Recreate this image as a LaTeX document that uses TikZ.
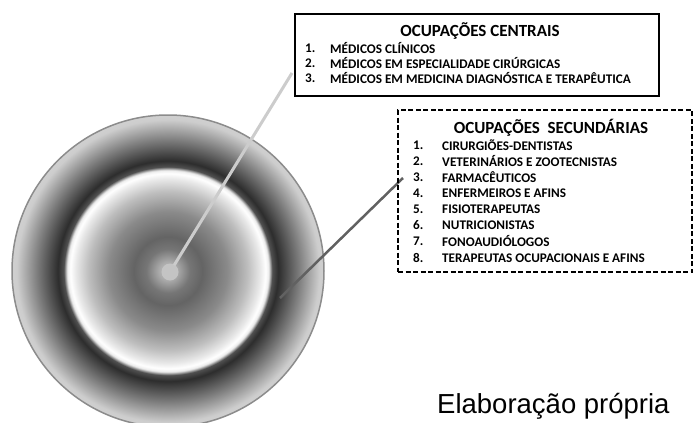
\documentclass[tikz,border=0pt]{standalone}
\usepackage{fontspec}
\setmainfont{Carlito}
\newfontfamily\arialfont{Liberation Sans}
\pgfdeclareradialshading{discshade}{\pgfpoint{0bp}{0bp}}{%
color(0bp)=(rgb,255:red,196;green,196;blue,196);
color(1.5bp)=(rgb,255:red,170;green,170;blue,170);
color(3.5bp)=(rgb,255:red,118;green,118;blue,118);
color(5.5bp)=(rgb,255:red,100;green,100;blue,100);
color(9.5bp)=(rgb,255:red,138;green,138;blue,138);
color(12.75bp)=(rgb,255:red,190;green,190;blue,190);
color(14.75bp)=(rgb,255:red,232;green,232;blue,232);
color(15.65bp)=(rgb,255:red,255;green,255;blue,255);
color(16.15bp)=(rgb,255:red,235;green,235;blue,235);
color(16.7bp)=(rgb,255:red,80;green,80;blue,80);
color(17.65bp)=(rgb,255:red,45;green,45;blue,45);
color(21bp)=(rgb,255:red,125;green,125;blue,125);
color(24.25bp)=(rgb,255:red,205;green,205;blue,205);
color(25bp)=(rgb,255:red,208;green,208;blue,208);
color(50bp)=(rgb,255:red,208;green,208;blue,208)}
\begin{document}
\begin{tikzpicture}[x=1pt,y=-1pt,
  ringline/.style={draw=black!45,line width=1.5pt},
  lightconn/.style={draw=black!20,line width=3pt},
  darkconn/.style={draw=black!62,line width=2.5pt},
  solidbox/.style={draw=black,line width=2.2pt,rectangle,inner sep=0pt},
  dashbox/.style={draw=black,line width=1.2pt,dash pattern=on 5pt off 2.5pt,rectangle,inner sep=0pt},
  boxtitle/.style={font=\fontsize{17}{17}\selectfont\bfseries,inner sep=0pt},
  itemnum/.style={font=\fontsize{13.2}{13.2}\selectfont\bfseries,anchor=west,inner sep=0pt},
  itemtxt/.style={font=\fontsize{13.2}{13.2}\selectfont\bfseries,anchor=west,inner sep=0pt},
]
\useasboundingbox (0,0) rectangle (694,423);
% disc
\shade[shading=discshade] (168,271) circle (156);
\draw[ringline] (168,271) circle (156);
\coordinate (c1) at (292,73);
\coordinate (d0) at (280,298);
\coordinate (d1) at (403,178);
\node[circle,fill=black!23,inner sep=0pt,minimum size=17pt] (core) at (170,272) {};
\draw[lightconn] (core.center) -- (c1);
\node[circle,fill=black!23,inner sep=0pt,minimum size=16pt] at (core) {};
\draw[darkconn] (d0) -- (d1);
% central box
\node[solidbox,minimum width=364pt,minimum height=82pt] (central) at (477,55) {};
\node[boxtitle] (ct) at (480,31) {OCUPAÇÕES CENTRAIS};
\node[itemnum] (cn1) at (305,48) {1.};
\node[itemtxt] (ci1) at (330,48) {MÉDICOS CLÍNICOS};
\node[itemnum] (cn2) at (305,63) {2.};
\node[itemtxt] (ci2) at (330,63) {MÉDICOS EM ESPECIALIDADE CIRÚRGICAS};
\node[itemnum] (cn3) at (305,78) {3.};
\node[itemtxt] (ci3) at (330,78) {MÉDICOS EM MEDICINA DIAGNÓSTICA E TERAPÊUTICA};
% secondary box
\node[dashbox,minimum width=294pt,minimum height=162pt] (second) at (545,191) {};
\node[boxtitle] (st) at (551,128) {OCUPAÇÕES\ \ SECUNDÁRIAS};
\node[itemnum] (sn1) at (413,145) {1.};
\node[itemtxt] (si1) at (442,145) {CIRURGIÕES-DENTISTAS};
\node[itemnum] (sn2) at (413,161) {2.};
\node[itemtxt] (si2) at (442,161) {VETERINÁRIOS E ZOOTECNISTAS};
\node[itemnum] (sn3) at (413,177) {3.};
\node[itemtxt] (si3) at (442,177) {FARMACÊUTICOS};
\node[itemnum] (sn4) at (413,193) {4.};
\node[itemtxt] (si4) at (442,193) {ENFERMEIROS E AFINS};
\node[itemnum] (sn5) at (413,209) {5.};
\node[itemtxt] (si5) at (442,209) {FISIOTERAPEUTAS};
\node[itemnum] (sn6) at (413,225) {6.};
\node[itemtxt] (si6) at (442,225) {NUTRICIONISTAS};
\node[itemnum] (sn7) at (413,241) {7.};
\node[itemtxt] (si7) at (442,241) {FONOAUDIÓLOGOS};
\node[itemnum] (sn8) at (413,258) {8.};
\node[itemtxt] (si8) at (442,258) {TERAPEUTAS OCUPACIONAIS E AFINS};
% source
\node[font=\arialfont\fontsize{27.5}{27.5}\selectfont,anchor=base west,inner sep=0pt] (src) at (437,413) {Elaboração própria};
\end{tikzpicture}
\end{document}
